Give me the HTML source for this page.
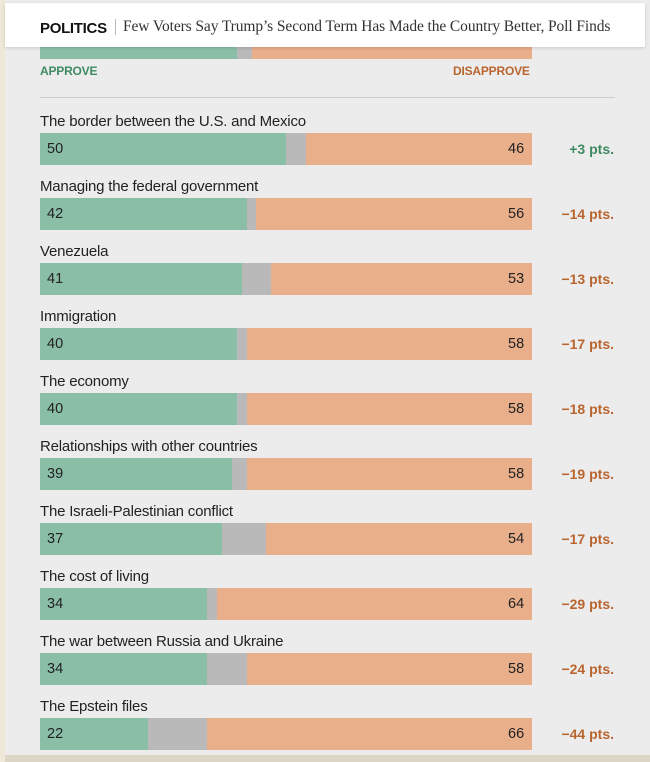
<!DOCTYPE html>
<html><head><meta charset="utf-8"><style>
body{margin:0;width:650px;height:762px;overflow:hidden;background:#ddd6c6;font-family:"Liberation Sans",sans-serif}
#panel{position:absolute;left:5px;top:0;width:645px;height:755px;background:#ececec}
#strip{position:absolute;left:0;top:0;width:5px;height:762px;background:#efe8d8}
#header{position:absolute;left:5px;top:3px;width:640px;height:44px;background:#fff;box-shadow:0 1px 3px rgba(0,0,0,.15);z-index:2}
#sec{position:absolute;left:35px;top:17px;font-weight:bold;font-size:15px;color:#111;letter-spacing:-0.3px}
#sep{position:absolute;left:110px;top:16px;width:1px;height:16px;background:#bbb}
#title{position:absolute;left:118px;top:15px;font-family:"Liberation Serif",serif;font-size:15.5px;color:#333;letter-spacing:-0.1px}
.lbl{position:absolute;left:40px;font-size:15px;color:#222;letter-spacing:-0.2px}
.seg{position:absolute;height:32px}
.val{position:absolute;font-size:14.5px;color:#222}
.net{position:absolute;font-size:14px;font-weight:bold;right:36px}
</style></head><body>
<div id="strip"></div>
<div id="panel"></div>
<div id="header">
<span id="sec">POLITICS</span>
<span id="sep"></span>
<span id="title">Few Voters Say Trump’s Second Term Has Made the Country Better, Poll Finds</span>
</div>
<div id="chart"></div>
<script>
const topics=["The border between the U.S. and Mexico","Managing the federal government","Venezuela","Immigration","The economy","Relationships with other countries","The Israeli-Palestinian conflict","The cost of living","The war between Russia and Ukraine","The Epstein files"];
const approve=[50,42,41,40,40,39,37,34,34,22];
const disapprove=[46,56,53,58,58,58,54,64,58,66];
const neutral=[4,2,6,2,2,3,9,3,8,12];
const nets=["+3 pts.","\u221214 pts.","\u221213 pts.","\u221217 pts.","\u221218 pts.","\u221219 pts.","\u221217 pts.","\u221229 pts.","\u221224 pts.","\u221244 pts."];
const X0=40,W=492;
const x=v=>X0+v*W/100;
const chart=document.getElementById('chart');
function mk(cls,style,text,name,inter){const e=document.createElement('div');e.className=cls;e.style.cssText=style;if(text!=null)e.textContent=text;


chart.appendChild(e);return e;}
const G='#8bbea7',O='#e9ae8a',N='#b9b9b9';
mk('seg',`left:${x(0)}px;top:27px;width:${x(40)-x(0)}px;background:${G}`,null,'top-approve-bar','false');
mk('seg',`left:${x(40)}px;top:27px;width:${x(43)-x(40)}px;background:${N}`,null,'top-neutral-bar','false');
mk('seg',`left:${x(43)}px;top:27px;width:${x(100)-x(43)}px;background:${O}`,null,'top-disapprove-bar','false');
mk('lbl','top:64px;font-size:12px;font-weight:bold;color:#3f8a62','APPROVE','approve-legend','false');
mk('lbl','top:64px;left:453px;font-size:12px;font-weight:bold;color:#b9652f','DISAPPROVE','disapprove-legend','false');
mk('seg','left:40px;top:97px;width:575px;height:1px;background:#ccc',null,'divider','false');
topics.forEach((t,i)=>{
 const y=133+i*65;
 mk('lbl',`top:${y-20}px`,t,'topic-label','false');
 const a=approve[i],d=disapprove[i],n=100-a-d;
 mk('seg',`left:${x(0)}px;top:${y}px;width:${x(a)-x(0)}px;background:${G}`,null,'approve-bar','false');
 mk('seg',`left:${x(a)}px;top:${y}px;width:${x(a+n)-x(a)}px;background:${N}`,null,'neutral-bar','false');
 mk('seg',`left:${x(a+n)}px;top:${y}px;width:${x(100)-x(a+n)}px;background:${O}`,null,'disapprove-bar','false');
 mk('val',`left:47px;top:${y+8}px`,String(a),'approve-value','false');
 mk('val',`left:${x(100)-24}px;top:${y+8}px`,String(d),'disapprove-value','false');
 mk('net',`top:${y+8}px;color:${nets[i][0]==='+'?'#3f8a62':'#b9652f'}`,nets[i],'net-change','false');
});
</script>
</body></html>
